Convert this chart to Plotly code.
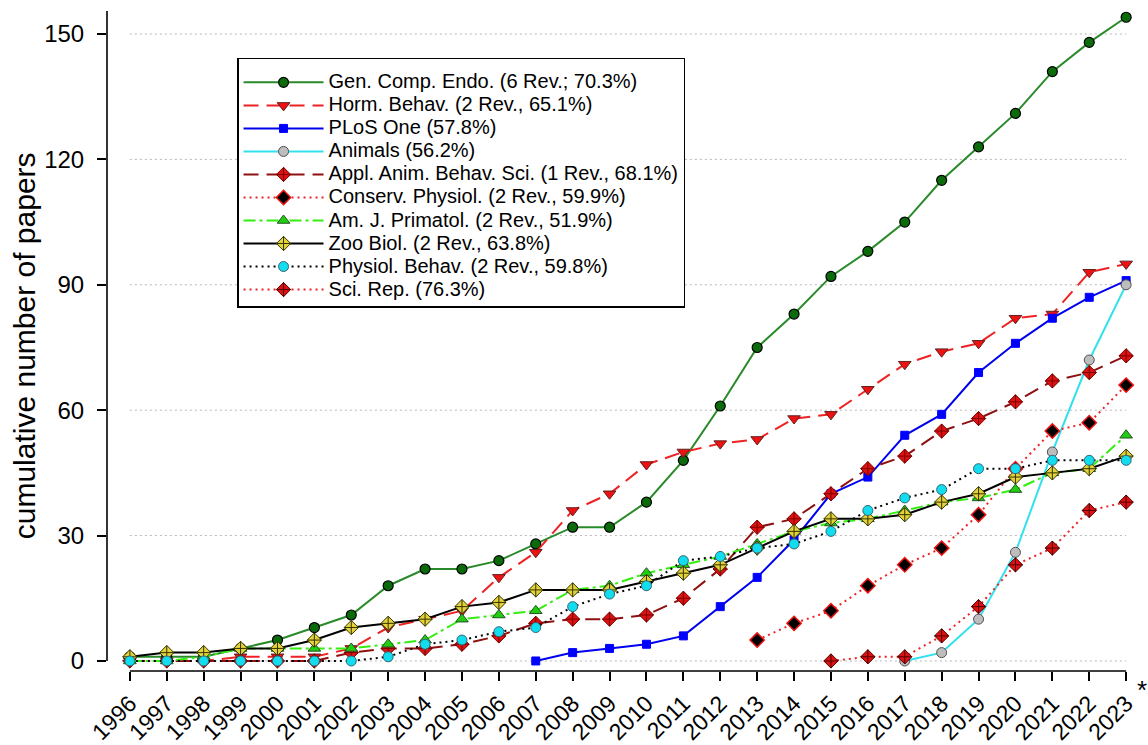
import plotly.graph_objects as go

years = list(range(1996, 2024))
year_labels = [str(y) for y in years]
y_ticks = [0, 30, 60, 90, 120, 150]

gen_comp_endo = [1, 1, 1, 3, 5, 8, 11, 18, 22, 22, 24, 28, 32, 32, 38, 48, 61, 75, 83, 92, 98, 105, 115, 123, 131, 141, 148, 154]
horm_behav = [0, 0, 0, 1, 1, 1, 3, 8, 10, 12, 20, 26, 36, 40, 47, 50, 52, 53, 58, 59, 65, 71, 74, 76, 82, 83, 93, 95]
plos_years = list(range(2007, 2024))
plos_one = [0, 2, 3, 4, 6, 13, 20, 29, 40, 44, 54, 59, 69, 76, 82, 87, 91]
animals_years = list(range(2017, 2024))
animals = [0, 2, 10, 26, 50, 72, 90]
appl_anim = [0, 0, 0, 0, 0, 0, 2, 3, 3, 4, 6, 9, 10, 10, 11, 15, 22, 32, 34, 40, 46, 49, 55, 58, 62, 67, 69, 73]
conserv_years = list(range(2013, 2024))
conserv_physiol = [5, 9, 12, 18, 23, 27, 35, 46, 55, 57, 66]
am_j_primatol = [0, 0, 1, 3, 3, 3, 3, 4, 5, 10, 11, 12, 17, 18, 21, 23, 25, 28, 31, 33, 34, 36, 38, 39, 41, 45, 46, 54]
zoo_biol = [1, 2, 2, 3, 3, 5, 8, 9, 10, 13, 14, 17, 17, 17, 19, 21, 23, 27, 31, 34, 34, 35, 38, 40, 44, 45, 46, 49]
physiol_behav = [0, 0, 0, 0, 0, 0, 0, 1, 4, 5, 7, 8, 13, 16, 18, 24, 25, 27, 28, 31, 36, 39, 41, 46, 46, 48, 48, 48]
scirep_years = list(range(2015, 2024))
sci_rep = [0, 1, 1, 6, 13, 23, 27, 36, 38]

names = [
    "Gen. Comp. Endo. (6 Rev.; 70.3%)",
    "Horm. Behav. (2 Rev., 65.1%)",
    "PLoS One (57.8%)",
    "Animals (56.2%)",
    "Appl. Anim. Behav. Sci. (1 Rev., 68.1%)",
    "Conserv. Physiol. (2 Rev., 59.9%)",
    "Am. J. Primatol. (2 Rev., 51.9%)",
    "Zoo Biol. (2 Rev., 63.8%)",
    "Physiol. Behav. (2 Rev., 59.8%)",
    "Sci. Rep. (76.3%)",
]

series = [
    (years, gen_comp_endo, dict(color="#2a8a2a", width=2, dash="solid"),
     dict(symbol="circle", size=10, color="#0b6b0b", line=dict(color="black", width=1.2))),
    (years, horm_behav, dict(color="#ee2222", width=2, dash="15px,8px"),
     dict(symbol="triangle-down", size=11, color="#ee1111", line=dict(color="#602020", width=1))),
    (plos_years, plos_one, dict(color="#0000ee", width=2, dash="solid"),
     dict(symbol="square", size=8, color="#0000ff", line=dict(color="#0000ff", width=1))),
    (animals_years, animals, dict(color="#33e0ee", width=2, dash="solid"),
     dict(symbol="circle", size=10, color="#bdbdbd", line=dict(color="#505050", width=1))),
    (years, appl_anim, dict(color="#8e1010", width=2, dash="15px,8px"),
     dict(symbol="diamond-cross", size=11, color="#dd1111", line=dict(color="#7a0000", width=1))),
    (conserv_years, conserv_physiol, dict(color="#ee2222", width=2, dash="2px,4px"),
     dict(symbol="diamond", size=11, color="black", line=dict(color="#ee1111", width=1.5))),
    (years, am_j_primatol, dict(color="#33ee11", width=2, dash="12px,4px,3px,4px"),
     dict(symbol="triangle-up", size=11, color="#22cc11", line=dict(color="#225522", width=1))),
    (years, zoo_biol, dict(color="black", width=2, dash="solid"),
     dict(symbol="diamond-cross", size=11, color="#e3d23a", line=dict(color="#333300", width=1))),
    (years, physiol_behav, dict(color="black", width=2, dash="2px,4px"),
     dict(symbol="circle", size=10, color="#11ddee", line=dict(color="#336677", width=1))),
    (scirep_years, sci_rep, dict(color="#ee2222", width=2, dash="2px,4px"),
     dict(symbol="diamond-cross", size=11, color="#dd1111", line=dict(color="#500000", width=1))),
]

fig = go.Figure()
for name, (xs, ys, ln, mk) in zip(names, series):
    fig.add_trace(go.Scatter(x=xs, y=ys, mode="lines+markers",
                             name='<span style="font-size:20px">' + name + '</span>',
                             line=ln, marker=mk))

# dotted horizontal guide lines at the y ticks
for t in y_ticks:
    fig.add_shape(type="line", xref="x", yref="y", x0=years[0], x1=years[-1], y0=t, y1=t,
                  line=dict(color="#b8b8b8", width=1, dash="2px,3px"), layer="below")
# axis lines (R-style, spanning tick range)
fig.add_shape(type="line", xref="x", yref="paper", x0=years[0], x1=years[-1], y0=0, y1=0,
              line=dict(color="black", width=1.6))
fig.add_shape(type="line", xref="paper", yref="y", x0=0, x1=0, y0=y_ticks[0], y1=155.5,
              line=dict(color="black", width=1.6))

fig.add_annotation(text="*", xref="x", yref="paper", x=years[-1], y=0, xshift=16, yshift=-19,
                   xanchor="center", yanchor="middle",
                   showarrow=False, font=dict(size=26, color="black"))
fig.add_annotation(text="cumulative number of papers", xref="paper", yref="paper", x=0, y=0.492,
                   xanchor="center", yanchor="middle",
                   xshift=-83, textangle=-90, showarrow=False, font=dict(size=30, color="black"))

fig.update_layout(
    width=1148, height=745,
    margin=dict(l=107, r=13, t=11, b=74),
    plot_bgcolor="white", paper_bgcolor="white",
    font=dict(family="Arial, Liberation Sans, sans-serif", color="black"),
    showlegend=True,
    legend=dict(x=0.1265, y=0.929, xanchor="left", yanchor="top",
                bgcolor="white", bordercolor="black", borderwidth=1.5,
                title=dict(text=" ", font=dict(size=5)),
                font=dict(size=15.4), itemwidth=80, tracegroupgap=0),
    xaxis=dict(range=[1995.38, 2023.24], tickvals=years, ticktext=year_labels, tickangle=-45,
               ticks="outside", ticklen=9, tickwidth=1.5, tickcolor="black", automargin=False,
               showgrid=False, zeroline=False, showline=False, tickfont=dict(size=23)),
    yaxis=dict(range=[-2.4, 155.5], tickvals=y_ticks, ticks="outside", ticklen=9, tickwidth=1.5,
               tickcolor="black", showgrid=False, zeroline=False, showline=False, automargin=False,
               ticklabelstandoff=8,
               tickfont=dict(size=24)),
)

fig.write_html("out.html", config={"displayModeBar": False},
               post_script="document.body.style.margin='0';document.body.style.overflow='hidden';")
